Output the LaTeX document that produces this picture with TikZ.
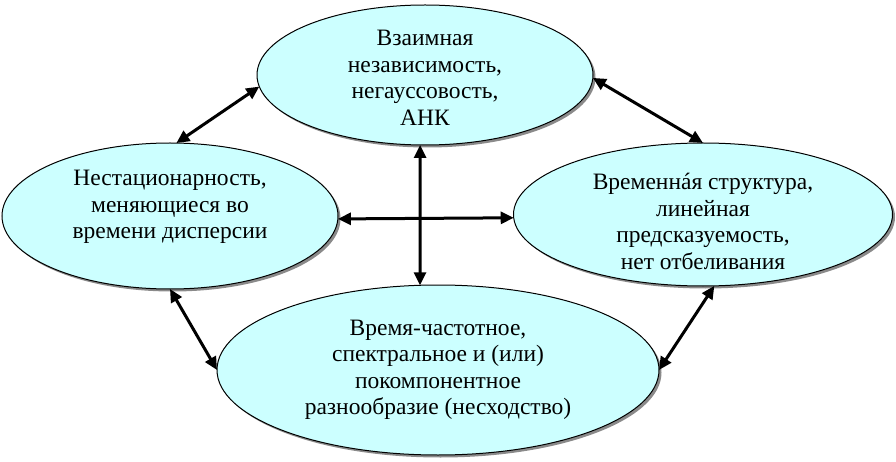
\documentclass[tikz,border=0pt]{standalone}
\usepackage{fontspec}
\setmainfont{Liberation Serif}
\newfontfamily\serfont{Liberation Serif}
\usetikzlibrary{shapes.geometric,shadows,arrows.meta}
\definecolor{ellfill}{HTML}{CCFFFF}
\definecolor{shadowgray}{HTML}{8A8A8A}
\begin{document}
\begin{tikzpicture}[x=1pt,y=-1pt,
  ell/.style={ellipse, draw=black, line width=1pt, fill=ellfill, inner sep=0pt, outer sep=0pt,
    drop shadow={shadow xshift=2.5pt, shadow yshift=-2.5pt, fill=shadowgray, opacity=1}},
  txt/.style={align=center, font=\serfont\fontsize{23.5}{26.5}\selectfont, inner sep=0pt, text=black},
  link/.style={{Triangle[length=13pt,width=12pt]}-{Triangle[length=13pt,width=12pt]}, line width=3pt}]
\useasboundingbox (0,0) rectangle (896,462);

\node[ell, minimum width=336pt, minimum height=140pt] (T) at (425,75) {};
\node[ell, minimum width=336pt, minimum height=146pt] (L) at (170,216) {};
\node[ell, minimum width=379pt, minimum height=143pt] (R) at (703,214.5) {};
\node[ell, minimum width=442pt, minimum height=170pt] (B) at (438,370) {};

\node[txt] (Tt) at ([yshift=-3pt]T.center) {Взаимная\\независимость,\\негауссовость,\\АНК};
\node[txt] (Lt) at ([yshift=9pt]L.center) {Нестационарность,\\меняющиеся во\\времени дисперсии};
\node[txt] (Rt) at ([yshift=-7pt]R.center) {Временнáя структура,\\линейная\\предсказуемость,\\нет отбеливания};
\node[txt] (Bt) at (B.center) {Время-частотное,\\спектральное и (или)\\покомпонентное\\разнообразие (несходство)};

\draw[link] (L.85) -- (T.184);
\draw[link] (T.-1) -- (R.90);
\draw[link] (T.266) -- (B.102);
\draw[link] (L.-1.4) -- (R.181.7);
\draw[link] (L.270) -- (B.180);
\draw[link] (B.0) -- (R.-81);
\end{tikzpicture}
\end{document}
